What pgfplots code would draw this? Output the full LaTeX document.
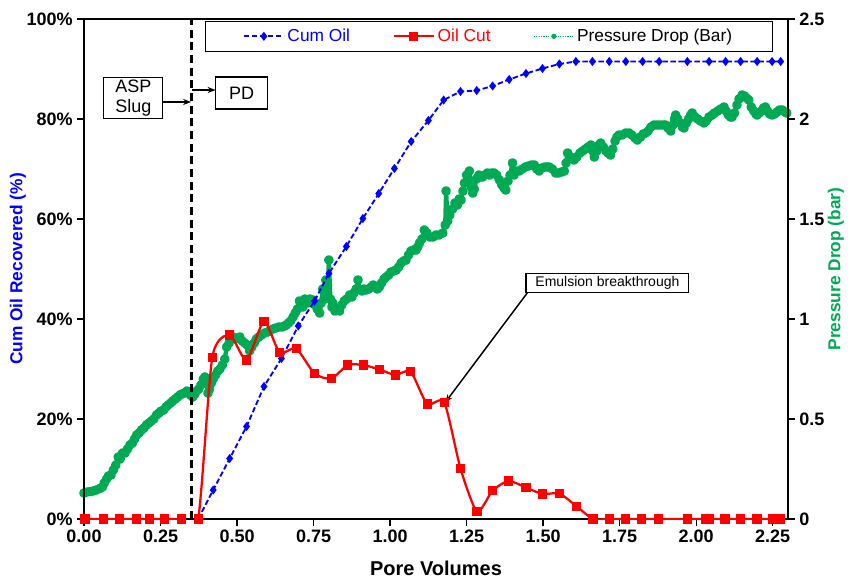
\documentclass[border=0pt]{standalone}
\usepackage{fontspec}
\setmainfont{Liberation Sans}
\usepackage{pgfplots}
\usepackage{pgfplotstable}
\pgfplotsset{compat=1.18}
\usetikzlibrary{arrows.meta}

\definecolor{cumblue}{RGB}{0,0,255}
\definecolor{cutred}{RGB}{255,0,0}
\definecolor{pgreen}{RGB}{0,170,85}

% cumulative oil recovered (%)
\pgfplotstableread{
pv cum
0.373 0
0.422 5.8
0.476 12.1
0.531 18.5
0.588 26.5
0.645 32.1
0.700 38.6
0.753 43.6
0.800 49.1
0.857 54.5
0.911 60.1
0.963 65.1
1.014 70.1
1.069 75.5
1.125 79.7
1.175 83.8
1.230 85.5
1.283 85.7
1.335 86.6
1.389 87.9
1.444 89.1
1.498 90.1
1.553 91.0
1.607 91.5
1.661 91.5
1.716 91.5
1.770 91.5
1.825 91.5
1.879 91.5
1.971 91.5
2.042 91.5
2.096 91.5
2.145 91.5
2.199 91.5
2.248 91.5
2.276 91.5
}\cumoil

% oil cut (%)
\pgfplotstableread{
pv cut
0.003 0
0.063 0
0.117 0
0.172 0
0.215 0
0.264 0
0.319 0
0.373 0
0.419 32.3
0.476 36.8
0.531 31.8
0.588 39.5
0.639 33.3
0.693 34.1
0.753 29.1
0.808 28.1
0.862 30.8
0.913 30.8
0.965 29.9
1.018 28.8
1.067 29.5
1.121 23.0
1.177 23.3
1.230 10.1
1.284 1.5
1.335 5.7
1.387 7.6
1.444 6.3
1.498 5.0
1.553 5.1
1.610 2.5
1.663 0
1.716 0
1.770 0
1.822 0
1.877 0
1.971 0
2.031 0
2.042 0
2.094 0
2.145 0
2.199 0
2.250 0
2.275 0
}\oilcut

% pressure drop (bar)
\pgfplotstableread{
pv dp
0.000 0.13
0.010 0.135
0.020 0.137
0.030 0.14
0.040 0.145
0.052 0.153
0.060 0.16
0.066 0.18
0.074 0.20
0.080 0.215
0.088 0.22
0.096 0.245
0.104 0.27
0.112 0.31
0.118 0.30
0.126 0.33
0.134 0.33
0.142 0.35
0.150 0.37
0.158 0.38
0.165 0.40
0.172 0.42
0.180 0.43
0.188 0.445
0.196 0.455
0.204 0.47
0.212 0.48
0.220 0.49
0.228 0.50
0.237 0.52
0.245 0.53
0.252 0.54
0.260 0.545
0.268 0.56
0.275 0.57
0.283 0.58
0.290 0.59
0.298 0.60
0.306 0.61
0.313 0.62
0.320 0.625
0.328 0.63
0.336 0.64
0.342 0.635
0.348 0.62
0.355 0.61
0.362 0.625
0.368 0.64
0.375 0.65
0.382 0.67
0.390 0.70
0.395 0.71
0.400 0.68
0.405 0.63
0.410 0.65
0.416 0.68
0.422 0.70
0.430 0.72
0.437 0.74
0.444 0.75
0.452 0.77
0.460 0.80
0.466 0.86
0.474 0.88
0.480 0.90
0.487 0.91
0.494 0.90
0.501 0.905
0.509 0.91
0.517 0.89
0.525 0.88
0.533 0.87
0.541 0.84
0.548 0.86
0.556 0.88
0.563 0.90
0.571 0.91
0.580 0.92
0.590 0.93
0.600 0.935
0.607 0.94
0.617 0.95
0.627 0.955
0.637 0.96
0.647 0.96
0.655 0.965
0.661 0.97
0.668 0.98
0.675 0.99
0.683 1.01
0.690 1.03
0.697 1.05
0.704 1.09
0.710 1.08
0.715 1.06
0.722 1.10
0.730 1.08
0.738 1.10
0.748 1.095
0.755 1.07
0.762 1.05
0.770 1.03
0.775 1.08
0.780 1.15
0.785 1.10
0.790 1.195
0.795 1.12
0.800 1.295
0.805 1.10
0.810 1.06
0.813 1.08
0.820 1.04
0.827 1.05
0.835 1.04
0.842 1.07
0.850 1.09
0.858 1.10
0.868 1.12
0.875 1.11
0.882 1.13
0.889 1.15
0.895 1.195
0.900 1.15
0.908 1.14
0.915 1.15
0.922 1.145
0.930 1.15
0.938 1.16
0.945 1.17
0.952 1.16
0.958 1.15
0.965 1.16
0.972 1.18
0.980 1.20
0.987 1.21
0.995 1.22
1.003 1.235
1.012 1.24
1.020 1.245
1.028 1.26
1.036 1.28
1.044 1.29
1.052 1.295
1.060 1.32
1.068 1.34
1.076 1.345
1.085 1.345
1.090 1.36
1.096 1.38
1.104 1.40
1.112 1.445
1.120 1.43
1.130 1.41
1.140 1.41
1.150 1.42
1.160 1.42
1.172 1.43
1.180 1.47
1.183 1.64
1.188 1.49
1.195 1.52
1.204 1.55
1.212 1.58
1.220 1.57
1.226 1.60
1.232 1.595
1.238 1.64
1.243 1.68
1.250 1.72
1.255 1.70
1.259 1.74
1.265 1.66
1.270 1.63
1.275 1.65
1.282 1.70
1.290 1.72
1.296 1.71
1.302 1.71
1.310 1.72
1.318 1.73
1.325 1.72
1.332 1.73
1.340 1.73
1.348 1.72
1.357 1.695
1.365 1.67
1.372 1.655
1.378 1.645
1.385 1.69
1.392 1.72
1.400 1.78
1.405 1.72
1.412 1.74
1.422 1.74
1.432 1.75
1.442 1.76
1.452 1.765
1.462 1.77
1.471 1.77
1.479 1.75
1.487 1.74
1.496 1.755
1.505 1.76
1.513 1.76
1.520 1.76
1.530 1.75
1.541 1.73
1.550 1.73
1.560 1.735
1.569 1.74
1.575 1.78
1.580 1.83
1.590 1.81
1.601 1.795
1.610 1.81
1.620 1.83
1.629 1.84
1.638 1.85
1.647 1.86
1.656 1.87
1.662 1.84
1.667 1.81
1.675 1.84
1.682 1.87
1.688 1.88
1.697 1.86
1.705 1.84
1.712 1.83
1.720 1.82
1.727 1.85
1.735 1.89
1.741 1.91
1.748 1.92
1.758 1.92
1.770 1.93
1.781 1.93
1.790 1.92
1.800 1.905
1.808 1.895
1.818 1.91
1.827 1.925
1.835 1.93
1.843 1.94
1.852 1.96
1.862 1.97
1.872 1.97
1.882 1.97
1.892 1.97
1.900 1.97
1.908 1.955
1.917 1.94
1.924 1.97
1.929 2.00
1.933 2.02
1.940 2.00
1.948 1.98
1.955 1.96
1.960 1.955
1.968 1.98
1.975 2.00
1.982 2.02
1.987 2.03
1.996 2.01
2.005 2.00
2.014 1.99
2.025 1.98
2.033 1.99
2.042 2.01
2.052 2.02
2.060 2.03
2.070 2.04
2.080 2.05
2.091 2.06
2.098 2.04
2.105 2.02
2.112 2.01
2.117 2.01
2.125 2.03
2.133 2.07
2.140 2.10
2.150 2.12
2.158 2.115
2.165 2.105
2.172 2.095
2.180 2.06
2.188 2.04
2.195 2.025
2.199 2.02
2.206 2.03
2.213 2.04
2.220 2.055
2.226 2.06
2.233 2.04
2.240 2.025
2.248 2.02
2.256 2.025
2.264 2.035
2.272 2.045
2.281 2.045
2.290 2.035
2.296 2.03
}\pdrop

\pgfplotsset{
  common/.style={
    width=528pt, height=375pt, scale only axis,
    xmin=0, xmax=2.3,
    axis line style={line width=1.6pt},
    tick style={line width=1pt, black},
    tick align=outside,
    major tick length=5pt,
    /pgf/number format/assume math mode=true,
    ticklabel style={font=\bfseries\fontsize{13.5}{15}\selectfont},
  },
}

\begin{document}
\begin{tikzpicture}
% right axis: pressure drop
\begin{axis}[common, name=rax,
    ymin=0, ymax=2.5,
    axis x line=none,
    axis y line*=right,
    ytick={0,0.5,1,1.5,2,2.5},
]
\addplot[pgreen, line width=3.2pt, line join=round, line cap=round,
  mark=*, mark size=2pt] table[x=pv, y=dp] {\pdrop};
\end{axis}

% left axis: cum oil and oil cut
\begin{axis}[common, name=ax,
    ymin=0, ymax=100,
    ytick={0,20,40,60,80,100},
    yticklabel={\pgfmathprintnumber{\tick}\%},
    ytick pos=left,
    xtick={0,0.25,...,2.25},
    xtick pos=bottom,
    xticklabel style={/pgf/number format/.cd, fixed, fixed zerofill, precision=2},
    legend columns=3,
    legend image code/.code={\draw[mark repeat=2, mark phase=2, #1]
      plot coordinates {(0pt,0pt) (15pt,0pt) (30pt,0pt)};},
    legend style={at={(rel axis cs:0.172,0.997)}, anchor=north west,
      draw=black, line width=0.8pt, fill=white,
      inner xsep=28pt, inner ysep=4pt,
      font=\fontsize{13}{15}\selectfont,
      /tikz/every even column/.append style={column sep=30pt}},
]
\addplot[cumblue, line width=1.4pt, dash pattern=on 4pt off 2pt,
  mark=diamond*, mark size=2.3pt, mark options={solid}]
  table[x=pv, y=cum] {\cumoil};
\addlegendentry{\textcolor{cumblue}{Cum Oil}}
\addplot[cutred, line width=1.7pt, smooth, tension=0.4,
  mark=square*, mark size=2.6pt]
  table[x=pv, y=cut] {\oilcut};
\addlegendentry{\textcolor{cutred}{Oil Cut}}
\addlegendimage{pgreen, densely dotted, line width=0.8pt, mark=*, mark size=1.5pt, mark options={solid}}
\addlegendentry{Pressure Drop (Bar)}

% ASP slug / post-flush boundary
\addplot[black, line width=2.4pt, dash pattern=on 6pt off 3.5pt, forget plot]
  coordinates {(0.35,0) (0.35,100)};

\node[draw=black, line width=0.8pt, fill=white, align=center,
  font=\fontsize{13.5}{14.5}\selectfont, inner sep=2pt, minimum width=44pt]
  (asp) at (axis cs:0.161,84.2) {ASP\\Slug};
\draw[-{Stealth[length=6pt]}, line width=1.1pt] (axis cs:0.258,83.4) -- (axis cs:0.35,83.4);
\node[draw=black, line width=0.8pt, fill=white,
  font=\fontsize{13.5}{15}\selectfont, minimum width=39pt, minimum height=24pt]
  at (axis cs:0.515,85.2) {PD};
\draw[-{Stealth[length=6pt]}, line width=1.1pt] (axis cs:0.353,85.8) -- (axis cs:0.43,85.8);

\node[draw=black, line width=1pt, fill=white,
  font=\fontsize{10.5}{11}\selectfont, inner sep=2pt, minimum width=122pt]
  at (axis cs:1.71,47.2) {Emulsion breakthrough};
\draw[-{Stealth[length=6pt]}, line width=1.1pt] (axis cs:1.448,45.2) -- (axis cs:1.18,23.3);
\end{axis}

\node[rotate=90, font=\bfseries\fontsize{13}{15}\selectfont, text=cumblue]
  at ([xshift=-49.5pt]ax.west) {Cum Oil Recovered (\%)};
\node[rotate=90, font=\bfseries\fontsize{13}{15}\selectfont, text=pgreen]
  at ([xshift=36pt]ax.east) {Pressure Drop (bar)};
\node[font=\bfseries\fontsize{15}{17}\selectfont]
  at ([yshift=-37pt]ax.south) {Pore Volumes};

% fix the picture frame to the reference proportions
\path ([xshift=-63pt, yshift=-45.75pt]ax.south west)
  rectangle ([xshift=49.5pt, yshift=14.25pt]ax.north east);
\end{tikzpicture}
\end{document}
